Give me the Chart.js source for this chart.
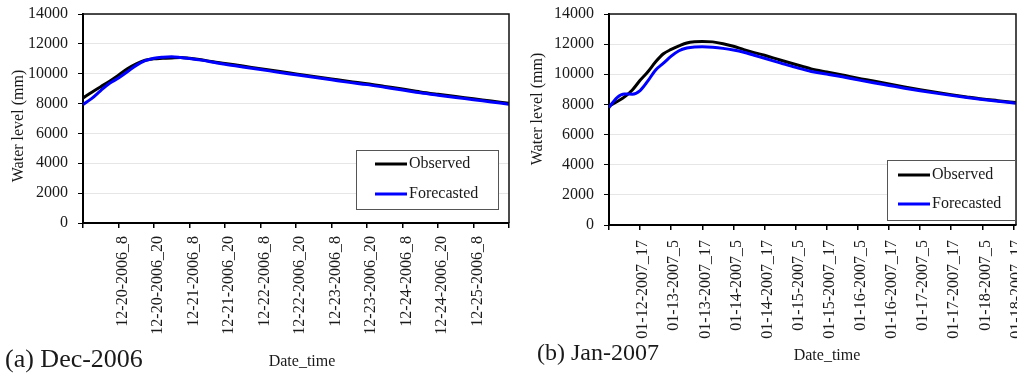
<!DOCTYPE html>
<html>
<head>
<meta charset="utf-8">
<script src="https://cdn.jsdelivr.net/npm/chart.js@4"></script>
<style>
  html, body { margin: 0; padding: 0; background: #fff; overflow: hidden; width: 1017px; height: 373px; }
  canvas { position: absolute; top: 0; }
  #decChart { left: 0; }
  #janChart { left: 520px; }
</style>
</head>
<body>
<canvas id="decChart" width="520" height="373"></canvas>
<canvas id="janChart" width="497" height="373"></canvas>
<script>
// ---- (a) Dec-2006 event: hours counted from 12-19-2006 20:00 ----
const decHours = [0, 3, 6, 9, 12, 15, 18, 21, 24, 27, 30, 33, 36, 40, 44, 48, 54, 60, 66, 72, 78, 84, 90, 96, 102, 108, 114, 120, 126, 132, 138, 144];
const decObserved = [8370, 8760, 9130, 9500, 9900, 10330, 10660, 10900, 11000, 11030, 11060, 11085, 11030, 10930, 10800, 10690, 10510, 10340, 10160, 9990, 9820, 9650, 9480, 9330, 9150, 8970, 8780, 8620, 8470, 8320, 8170, 8020];
const decForecasted = [7930, 8350, 8870, 9360, 9710, 10130, 10560, 10870, 11040, 11110, 11140, 11090, 11020, 10910, 10770, 10630, 10450, 10280, 10100, 9930, 9760, 9590, 9420, 9270, 9090, 8910, 8720, 8560, 8410, 8260, 8110, 7960];
const decTickHours = [0, 12, 24, 36, 48, 60, 72, 84, 96, 108, 120, 132, 144];
const decTickLabels = ['', '12-20-2006_8', '12-20-2006_20', '12-21-2006_8', '12-21-2006_20', '12-22-2006_8', '12-22-2006_20', '12-23-2006_8', '12-23-2006_20', '12-24-2006_8', '12-24-2006_20', '12-25-2006_8', ''];

// ---- (b) Jan-2007 event: hours counted from 01-12-2007 05:00 ----
const janHours = [0, 3, 6, 9, 12, 15, 18, 21, 24, 27, 30, 33, 36, 40, 44, 48, 52, 56, 60, 66, 72, 78, 84, 90, 96, 102, 108, 114, 120, 126, 132, 138, 144, 150, 157];
const janObserved = [7880, 8180, 8500, 8960, 9600, 10170, 10830, 11360, 11650, 11880, 12080, 12160, 12180, 12150, 12030, 11860, 11640, 11440, 11260, 10950, 10650, 10360, 10150, 9950, 9740, 9550, 9350, 9160, 8980, 8810, 8650, 8500, 8360, 8250, 8120];
const janForecasted = [7800, 8440, 8690, 8680, 8920, 9560, 10290, 10740, 11200, 11560, 11740, 11810, 11820, 11790, 11720, 11610, 11460, 11260, 11060, 10760, 10460, 10190, 10010, 9830, 9630, 9440, 9260, 9080, 8910, 8750, 8600, 8460, 8330, 8210, 8080];
const janTickHours = [0, 12, 24, 36, 48, 60, 72, 84, 96, 108, 120, 132, 144, 156];
const janTickLabels = ['', '01-12-2007_17', '01-13-2007_5', '01-13-2007_17', '01-14-2007_5', '01-14-2007_17', '01-15-2007_5', '01-15-2007_17', '01-16-2007_5', '01-16-2007_17', '01-17-2007_5', '01-17-2007_17', '01-18-2007_5', '01-18-2007_17'];

// Water level axis
const levelMin = 0;
const levelMax = 14000;
const levelStep = 2000;

const SERIF = '"Liberation Serif", "Times New Roman", serif';
const INK = '#1a1a1a';

// Plot frame (top/right edges), boxed legend and the free-standing captions
const decorPlugin = {
  id: 'decor',
  afterDraw(chart, args, opts) {
    const ctx = chart.ctx;
    const a = chart.chartArea;
    ctx.save();

    ctx.strokeStyle = '#111';
    ctx.lineWidth = 1.5;
    ctx.beginPath();
    ctx.moveTo(a.left, a.top);
    ctx.lineTo(a.right, a.top);
    ctx.lineTo(a.right, a.bottom);
    ctx.stroke();

    const b = opts.legend;
    ctx.fillStyle = '#fff';
    ctx.fillRect(b.x, b.y, b.w, b.h);
    ctx.strokeStyle = '#555';
    ctx.lineWidth = 1;
    ctx.strokeRect(b.x + 0.5, b.y + 0.5, b.w, b.h);
    ctx.font = '16px ' + SERIF;
    ctx.textBaseline = 'middle';
    ctx.textAlign = 'left';
    b.order.forEach((dsIndex, row) => {
      const ds = chart.data.datasets[dsIndex];
      const y = b.y + b.rowTop + row * b.rowGap;
      ctx.strokeStyle = ds.borderColor;
      ctx.lineWidth = ds.borderWidth;
      ctx.beginPath();
      ctx.moveTo(b.x + b.lineStart, y);
      ctx.lineTo(b.x + b.lineStart + 32, y);
      ctx.stroke();
      ctx.fillStyle = INK;
      ctx.fillText(ds.label, b.x + b.lineStart + 34, y);
    });

    opts.texts.forEach(t => {
      ctx.save();
      ctx.translate(t.x, t.y);
      if (t.rotate) ctx.rotate(t.rotate);
      ctx.font = t.size + 'px ' + SERIF;
      ctx.fillStyle = INK;
      ctx.textAlign = t.align || 'center';
      ctx.textBaseline = 'middle';
      ctx.fillText(t.text, 0, 0);
      ctx.restore();
    });

    ctx.restore();
  }
};

function buildChart(canvasId, hours, observed, forecasted, tickHours, tickLabels, xMax, geom, decor) {
  const canvas = document.getElementById(canvasId);
  const pts = vals => vals.map((v, i) => ({ x: hours[i], y: v }));
  return new Chart(canvas, {
    type: 'line',
    data: {
      datasets: [
        { label: 'Observed', data: pts(observed), borderColor: '#000000', borderWidth: 3, pointRadius: 0, cubicInterpolationMode: 'monotone', order: 1 },
        { label: 'Forecasted', data: pts(forecasted), borderColor: '#0000ff', borderWidth: 3, pointRadius: 0, cubicInterpolationMode: 'monotone', order: 0 }
      ]
    },
    options: {
      responsive: false,
      animation: false,
      devicePixelRatio: 1,
      layout: { padding: { left: 0, top: geom.top, right: canvas.width - geom.right, bottom: 0 } },
      scales: {
        x: {
          type: 'linear',
          min: 0,
          max: xMax,
          afterBuildTicks: s => { s.ticks = tickHours.map(h => ({ value: h })); },
          afterFit: s => { s.height = canvas.height - geom.bottom; s.paddingLeft = 0; s.paddingRight = 0; },
          grid: { drawOnChartArea: false, drawTicks: true, tickLength: 5, tickColor: '#000', lineWidth: 1.5 },
          border: { display: true, color: '#000', width: 2 },
          ticks: {
            autoSkip: false,
            minRotation: 90,
            maxRotation: 90,
            padding: geom.labelPad,
            labelOffset: geom.labelOffset,
            color: INK,
            font: { family: SERIF, size: 16 },
            callback: (value, index) => tickLabels[index]
          }
        },
        y: {
          min: levelMin,
          max: levelMax,
          afterFit: s => { s.width = geom.left; s.paddingTop = 0; s.paddingBottom = 0; },
          grid: { color: '#e6e6e6', lineWidth: 1, drawTicks: true, tickLength: 5, tickColor: '#000' },
          border: { display: true, color: '#000', width: 2 },
          ticks: {
            stepSize: levelStep,
            padding: 10,
            color: INK,
            font: { family: SERIF, size: 16 },
            callback: v => String(v)
          }
        }
      },
      plugins: {
        legend: { display: false },
        tooltip: { enabled: false },
        decor: decor
      }
    },
    plugins: [decorPlugin]
  });
}

buildChart('decChart', decHours, decObserved, decForecasted, decTickHours, decTickLabels, 144,
  { left: 83, right: 509, top: 14, bottom: 223, labelOffset: 4, labelPad: 8 },
  {
    legend: { x: 356, y: 150, w: 142, h: 59, lineStart: 19, rowTop: 14, rowGap: 30, order: [0, 1] },
    texts: [
      { text: 'Water level (mm)', x: 19, y: 126, rotate: -Math.PI / 2, size: 16 },
      { text: 'Date_time', x: 302, y: 362, size: 16 },
      { text: '(a) Dec-2006', x: 5, y: 360, size: 26, align: 'left' }
    ]
  });

buildChart('janChart', janHours, janObserved, janForecasted, janTickHours, janTickLabels, 157,
  { left: 89, right: 496, top: 14, bottom: 225, labelOffset: 3, labelPad: 10 },
  {
    legend: { x: 367, y: 160, w: 128, h: 60, lineStart: 11, rowTop: 15, rowGap: 29, order: [0, 1] },
    texts: [
      { text: 'Water level (mm)', x: 17.5, y: 109, rotate: -Math.PI / 2, size: 16 },
      { text: 'Date_time', x: 307, y: 356, size: 16 },
      { text: '(b) Jan-2007', x: 17, y: 354, size: 24, align: 'left' }
    ]
  });
</script>
</body>
</html>
